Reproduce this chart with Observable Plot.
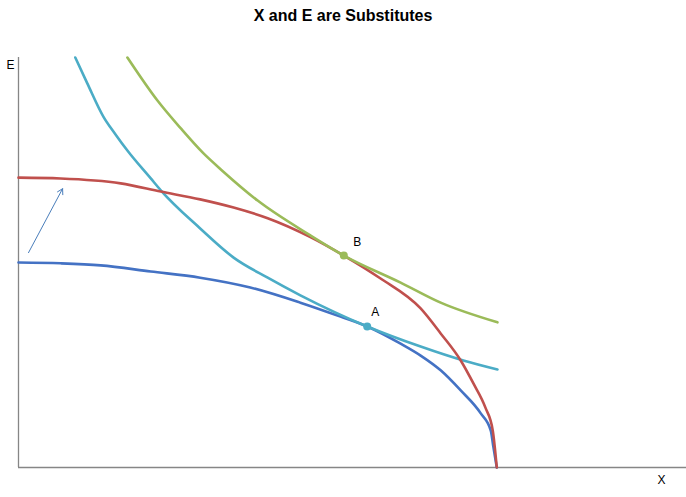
<!DOCTYPE html>
<html>
<head>
<meta charset="utf-8">
<script src="https://cdn.jsdelivr.net/npm/d3@7"></script>
<script src="https://cdn.jsdelivr.net/npm/@observablehq/plot@0.6"></script>
<style>
  body { margin: 0; background: #fff; }
  #title { width: 686px; height: 32px; line-height: 32px; text-align: center;
    font-family: "Liberation Sans Narrow", "Liberation Sans", sans-serif; font-weight: bold; font-size: 16px; color: #000; }
</style>
</head>
<body>
<div id="title">X and E are Substitutes</div>
<div id="chart"></div>
<script>
// Production possibility frontier (initial, blue)
const ppf1X = [0, 0.63, 1.23, 1.98, 2.72, 3.47, 4.22, 4.82, 5.22, 5.72, 6.02, 6.32, 6.62, 6.92, 7.07, 7.11, 7.16];
const ppf1Y = [5.00, 4.98, 4.93, 4.78, 4.63, 4.39, 4.02, 3.68, 3.44, 3.02, 2.73, 2.37, 1.88, 1.32, 0.90, 0.49, 0];
// Production possibility frontier (shifted, red)
const ppf2X = [0, 0.63, 1.53, 2.13, 2.72, 3.22, 3.73, 4.37, 4.87, 5.42, 6.02, 6.32, 6.62, 6.81, 6.99, 7.10, 7.16];
const ppf2Y = [7.07, 7.05, 6.93, 6.73, 6.54, 6.34, 6.08, 5.62, 5.17, 4.61, 3.88, 3.27, 2.61, 2.05, 1.46, 0.90, 0];
// Indifference curve through A (cyan)
const ic1X = [0.85, 1.03, 1.27, 1.45, 1.63, 1.98, 2.13, 2.72, 3.22, 3.73, 4.22, 5.22, 6.02, 6.66, 7.17];
const ic1Y = [10.0, 9.37, 8.56, 8.13, 7.73, 7.05, 6.76, 5.83, 5.12, 4.63, 4.20, 3.44, 2.95, 2.61, 2.39];
// Indifference curve through B (green)
const ic2X = [1.63, 2.08, 2.43, 2.77, 3.05, 3.58, 4.37, 4.87, 5.72, 6.32, 7.17];
const ic2Y = [10.0, 8.95, 8.27, 7.66, 7.24, 6.51, 5.66, 5.17, 4.51, 4.02, 3.54];
// Tangency points
const pointNames = ["A", "B"];
const pointX = [5.22, 4.87];
const pointY = [3.44, 5.17];
const pointColors = ["#4BACC6", "#9BBB59"];
const labelX = [5.34, 5.07];
const labelY = [3.80, 5.49];
// Shift arrow
const arrowFrom = [0.15, 5.24];
const arrowTo = [0.66, 6.80];

const toRows = (xs, ys) => xs.map((x, i) => ({x, y: ys[i]}));
const pts = pointNames.map((n, i) => ({n, x: pointX[i], y: pointY[i], c: pointColors[i], lx: labelX[i], ly: labelY[i]}));

const lineOpts = {x: "x", y: "y", strokeWidth: 2.6, curve: "monotone-x"};
const chart = Plot.plot({
  width: 686,
  height: 465,
  marginTop: 25,
  marginBottom: 30,
  marginLeft: 18,
  marginRight: 0,
  x: {domain: [0, 10], axis: null},
  y: {domain: [0, 10], axis: null},
  style: {fontFamily: "Liberation Sans, sans-serif", background: "#fff"},
  marks: [
    Plot.ruleY([0], {stroke: "#868686", strokeWidth: 1.3}),
    Plot.ruleX([0], {stroke: "#868686", strokeWidth: 1.3}),
    Plot.line(toRows(ppf1X, ppf1Y), {...lineOpts, stroke: "#4472C4"}),
    Plot.line(toRows(ic1X, ic1Y), {...lineOpts, stroke: "#4BACC6"}),
    Plot.line(toRows(ppf2X, ppf2Y), {...lineOpts, stroke: "#C0504D"}),
    Plot.line(toRows(ic2X, ic2Y), {...lineOpts, stroke: "#9BBB59"}),
    Plot.arrow([{}], {x1: () => arrowFrom[0], y1: () => arrowFrom[1], x2: () => arrowTo[0], y2: () => arrowTo[1],
      stroke: "#4A7EBB", strokeWidth: 1, headLength: 9}),
    Plot.dot(pts, {x: "x", y: "y", r: 4, fill: "c", stroke: "none"}),
    Plot.text(pts, {x: "lx", y: "ly", text: "n", fontSize: 12, fill: "#000"}),
    Plot.text(["E"], {frameAnchor: "top-left", dx: -12, dy: 3, fontSize: 12, fill: "#000"}),
    Plot.text(["X"], {frameAnchor: "bottom-right", dx: -21, dy: 16, fontSize: 12, fill: "#000"})
  ]
});
document.getElementById("chart").appendChild(chart);
</script>
</body>
</html>
